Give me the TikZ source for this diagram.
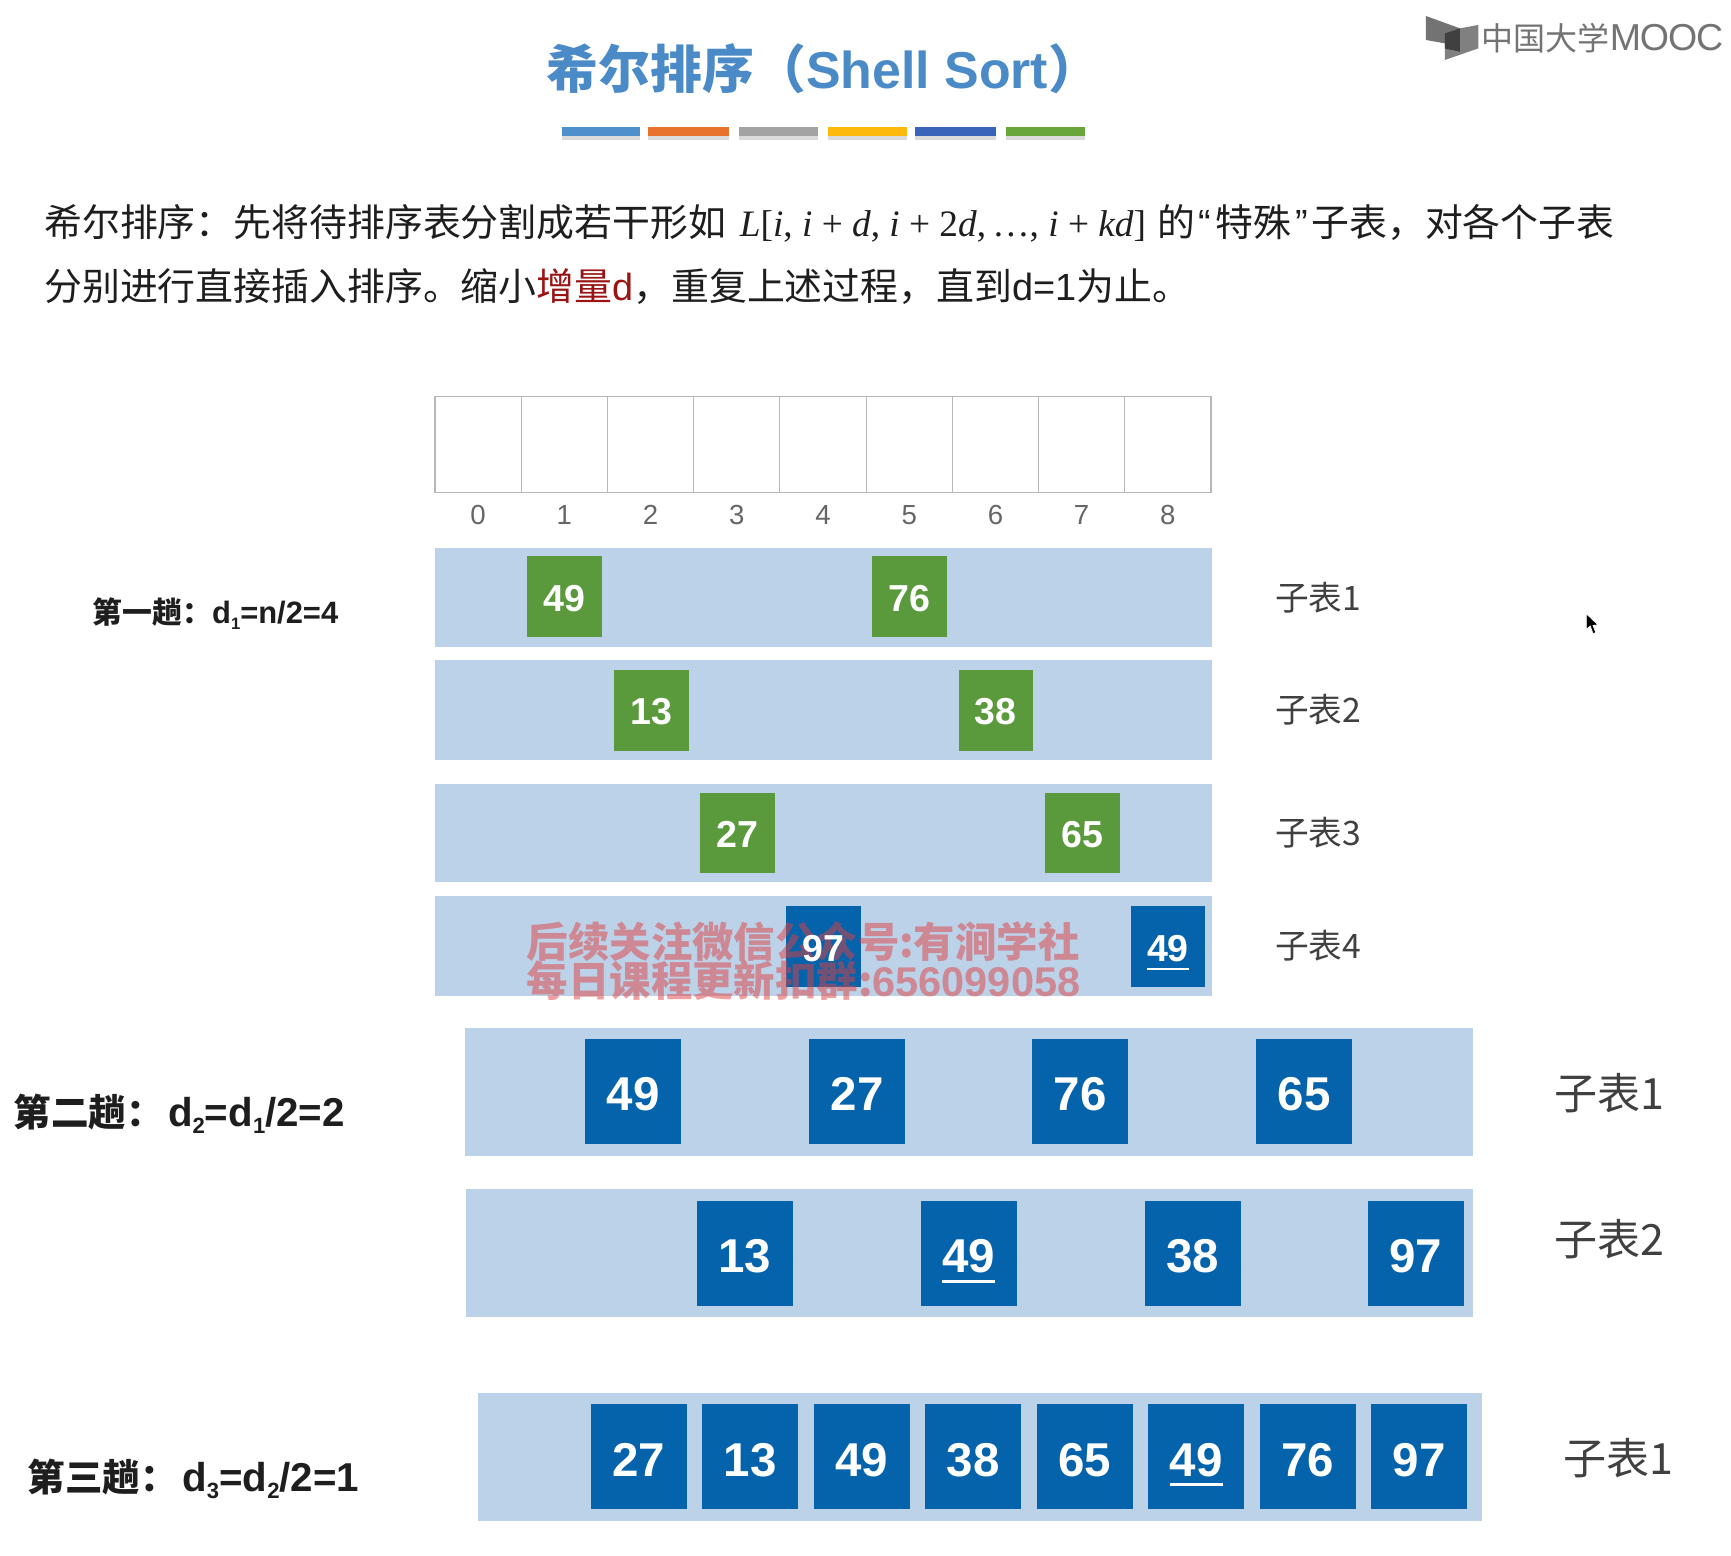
\documentclass[tikz,border=0pt]{standalone}
\usepackage{fontspec}
\setmainfont{Liberation Sans}
\newfontfamily\cjk{Noto Sans CJK SC}
\newfontfamily\serifmath{Liberation Serif}
\newcommand{\fsz}[1]{\fontsize{#1}{#1}\selectfont}
\newcommand{\subn}[2]{\raisebox{-0.18em}{\fontsize{#1}{#1}\selectfont #2}}
\definecolor{titleblue}{HTML}{4A8AC6}
\definecolor{bandblue}{HTML}{BBD2E9}
\definecolor{sqgreen}{HTML}{5A9A3C}
\definecolor{sqblue}{HTML}{0563AC}
\definecolor{inkblack}{HTML}{1E1E1E}
\definecolor{accentred}{HTML}{9A1414}
\definecolor{wmred}{HTML}{E04040}
\tikzset{
  cellbox/.style={draw=black!28,line width=1pt,minimum width=78.1pt,minimum height=87pt,inner sep=0,outer sep=0},
  idxlabel/.style={text=black!60,font=\fsz{25},inner sep=0},
  bandbox/.style={fill=bandblue,inner sep=0,outer sep=0},
  smallsq/.style={minimum width=67.5pt,minimum height=73pt,inner sep=0,outer sep=0,text=white,text height=26.5pt,font=\bfseries\fsz{34}},
  greensq/.style={smallsq,fill=sqgreen},
  bluesq/.style={smallsq,fill=sqblue},
  bigsq/.style={minimum width=87pt,minimum height=95pt,inner sep=0,outer sep=0,fill=sqblue,text=white,text height=35.5pt,font=\bfseries\fsz{43}},
  tlabel/.style={text=black!75,font=\cjk\fsz{30.5},inner sep=0},
  biglabel/.style={text=black!75,font=\cjk\fsz{39},inner sep=0},
  passlabel/.style={text=inkblack,inner sep=0,anchor=base west},
  para/.style={text=inkblack,inner sep=0,anchor=base west},
  barbox/.style={inner sep=0,outer sep=0,minimum height=8.5pt,anchor=north west},
}
\begin{document}
\begin{tikzpicture}[x=1pt,y=-1pt]
\useasboundingbox (0,0) rectangle (1568,1408.6);
\fill[white] (0,0) rectangle (1568,1408.6);

% title
\node[anchor=base west,inner sep=0,text=titleblue] (title) at (495,80.5)
  {\bfseries\fsz{47}{\cjk 希尔排序（}Shell Sort{\cjk ）}};
\foreach \nm/\xa/\w/\c in {a/509/71/4F8FCB,b/587/73/E8722C,c/669/72/A3A3A3,d/750/72/FDBA0C,e/829/73/3A64B8,f/911/72/68A63C}{
  \definecolor{barc}{HTML}{\c}
  \fill[black,opacity=.14] (\xa,123) rectangle ++(\w,4);
  \node[barbox,fill=barc,minimum width=\w pt] (bar\nm) at (\xa,115) {};
}

% logo
\fill[black!55] (1291.7,14.5) -- (1322.5,25.7) -- (1322.5,46.8) -- (1308.9,39.3) -- (1291.7,36.2) -- cycle;
\fill[black!50] (1308.9,30.2) -- (1322.5,25.7) -- (1339.1,22.6) -- (1339.1,43.8) -- (1308.9,54.3) -- cycle;
\fill[black!75] (1308.9,30.2) -- (1322.5,25.7) -- (1322.5,46.8) -- (1308.9,44) -- cycle;
\node[anchor=base west,inner sep=0,text=black!55] (logotext) at (1342,46)
  {{\cjk\fsz{29}中国大学}\fsz{34}\addfontfeatures{LetterSpace=-3}MOOC};

% paragraph
\node[para] (p1a) at (40,214) {\cjk\fsz{34.3}希尔排序：先将待排序表分割成若干形如};
\node[para] (p1m) at (670,214) {\serifmath\fsz{33.8}\textit{L}[\textit{i}, \textit{i} + \textit{d}, \textit{i} + 2\textit{d},\,\ldots, \textit{i} + \textit{kd}]};
\node[para] (p1b) at (1048,214) {\fsz{34.3}{\cjk 的}\kern3pt“\kern4pt{\cjk 特殊}\kern4pt”\kern3pt{\cjk 子表，对各个子表}};
\node[para] (p2) at (40,272) {\fsz{34.3}{\cjk 分别进行直接插入排序。缩小}\textcolor{accentred}{{\cjk 增量}d}{\cjk ，重复上述过程，直到}d=1{\cjk 为止。}};

% table
\foreach \i in {0,...,8}{
  \node[cellbox] (cell\i) at ({433.1+78.1*\i},402.5) {};
  \node[idxlabel] (idx\i) at ({433.1+78.1*\i},466.5) {\i};
}

% pass 1
\node[passlabel] (pass1) at (84,565) {\bfseries\fsz{27}{\cjk 第一趟：}\fsz{28}d\subn{15}{1}=n/2=4};
\foreach \nm/\ya/\yb in {b1/496/586,b2/598/688,b3/710/799,b4/812/902}{
  \path[bandbox] (394,\ya) rectangle (1098,\yb);
}
\node[greensq] (g1) at (511.5,540.5) {49};
\node[greensq] (g2) at (824,540.5) {76};
\node[greensq] (g3) at (590,643.5) {13};
\node[greensq] (g4) at (902,643.5) {38};
\node[greensq] (g5) at (668,754.5) {27};
\node[greensq] (g6) at (980.5,754.5) {65};
\node[bluesq] (b97) at (746,857.5) {};
\node[bluesq] (b49) at (1058,857.5) {49};
\draw[white,line width=2.2pt] ([xshift=-19pt,yshift=-20pt]b49.center) -- ([xshift=19pt,yshift=-20pt]b49.center);
\node[tlabel] (t11) at (1194,541) {子表1};
\node[tlabel] (t12) at (1194,643) {子表2};
\node[tlabel] (t13) at (1194,754) {子表3};
\node[tlabel] (t14) at (1194,857) {子表4};

% pass 2
\node[passlabel] (pass2) at (12,1020) {\bfseries\fsz{34}{\cjk 第二趟：}\kern4pt\fsz{36.5}d\subn{20}{2}=d\subn{20}{1}/2=2};
\path[bandbox] (421,931) rectangle (1334,1047);
\path[bandbox] (422,1077) rectangle (1334,1193);
\node[bigsq] (s1) at (573.5,988.5) {49};
\node[bigsq] (s2) at (776.5,988.5) {27};
\node[bigsq] (s3) at (978.5,988.5) {76};
\node[bigsq] (s4) at (1181.5,988.5) {65};
\node[bigsq] (s5) at (674.5,1135.5) {13};
\node[bigsq] (s6) at (877.5,1135.5) {49};
\node[bigsq] (s7) at (1080.5,1135.5) {38};
\node[bigsq] (s8) at (1282.5,1135.5) {97};
\draw[white,line width=2.5pt] ([xshift=-24pt,yshift=-25pt]s6.center) -- ([xshift=24pt,yshift=-25pt]s6.center);
\node[biglabel] (t21) at (1458,990) {子表1};
\node[biglabel] (t22) at (1458,1122) {子表2};

% pass 3
\node[passlabel] (pass3) at (25,1351) {\bfseries\fsz{34}{\cjk 第三趟：}\kern4pt\fsz{36.5}d\subn{20}{3}=d\subn{20}{2}/2=1};
\path[bandbox] (433,1262) rectangle (1342,1378);
\node[bigsq] (u1) at (578.5,1319.5) {27};
\node[bigsq] (u2) at (679.5,1319.5) {13};
\node[bigsq] (u3) at (780.5,1319.5) {49};
\node[bigsq] (u4) at (881.5,1319.5) {38};
\node[bigsq] (u5) at (982.5,1319.5) {65};
\node[bigsq] (u6) at (1083.5,1319.5) {49};
\node[bigsq] (u7) at (1184.5,1319.5) {76};
\node[bigsq] (u8) at (1285.5,1319.5) {97};
\draw[white,line width=2.5pt] ([xshift=-24pt,yshift=-25pt]u6.center) -- ([xshift=24pt,yshift=-25pt]u6.center);
\node[biglabel] (t31) at (1466,1321) {子表1};

% watermark
\node[anchor=base west,inner sep=0,text=wmred,text opacity=.5] (wm1) at (477,867)
  {\bfseries\fsz{37.5}{\cjk 后续关注微信公众号:有涧学社}};
\node[anchor=base west,inner sep=0,text=wmred,text opacity=.5] (wm2) at (477,903)
  {\bfseries\fsz{37.5}{\cjk 每日课程更新扣群:}\fsz{37.6}656099058};
\node[smallsq,fill=none] (t97) at (b97.center) {97};

% cursor
\draw[white,line width=.6pt,fill=black] (1437,556) -- (1437,570) -- (1440.5,567) -- (1443,574) -- (1445.5,573) -- (1443,566.5) -- (1447.5,566) -- cycle;
\end{tikzpicture}
\end{document}
